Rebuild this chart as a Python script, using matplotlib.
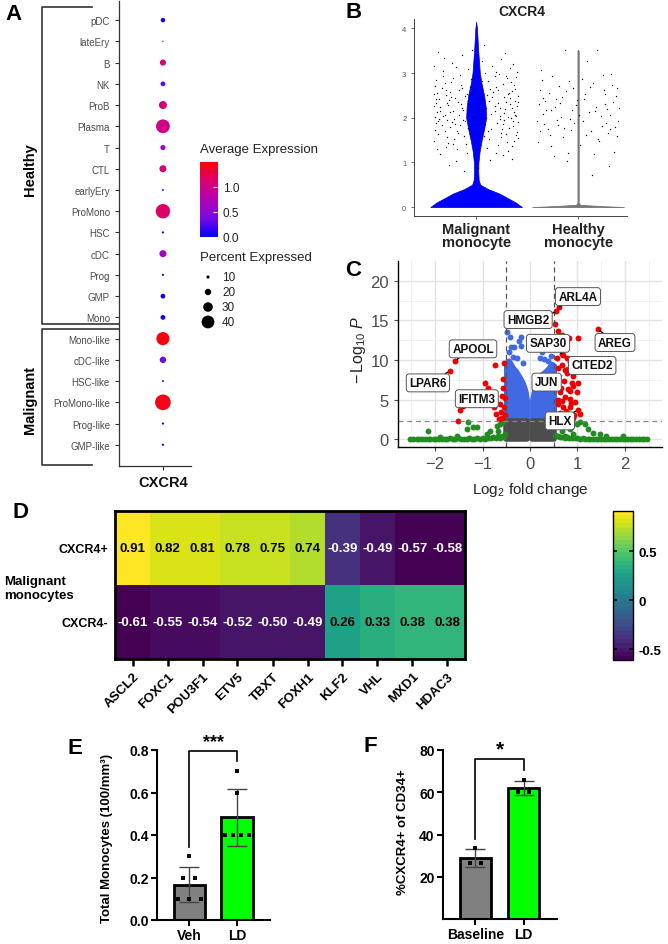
import numpy as np
import matplotlib
matplotlib.use('Agg')
import matplotlib.pyplot as plt
from matplotlib.colors import LinearSegmentedColormap

plt.rcParams['font.family'] = ['Liberation Sans', 'DejaVu Sans']
plt.rcParams['mathtext.fontset'] = 'custom'
plt.rcParams['mathtext.rm'] = 'Liberation Sans'
plt.rcParams['mathtext.it'] = 'Liberation Sans:italic'

W, H = 668, 945

# ---------------- data ----------------
# A: dot plot
cell_types = ['pDC', 'lateEry', 'B', 'NK', 'ProB', 'Plasma', 'T', 'CTL', 'earlyEry', 'ProMono',
              'HSC', 'cDC', 'Prog', 'GMP', 'Mono', 'Mono-like', 'cDC-like', 'HSC-like',
              'ProMono-like', 'Prog-like', 'GMP-like']
avg_expr = [0.05, 0.1, 1.1, 0.3, 1.1, 1.0, 0.6, 1.1, 0.05, 1.15,
            0.05, 0.6, 0.05, 0.05, 0.05, 1.45, 0.35, 0.05, 1.42, 0.05, 0.05]
pct_expr = [14, 4, 19, 15, 25, 43, 16, 22, 6, 45,
            7, 22, 7, 15, 15, 41, 20, 6, 49, 7, 7]
size_legend = [10, 20, 30, 40]

# B: violin profile (expression level, half width) and jittered cells
vln_y = [0, 0.1, 0.2, 0.3, 0.4, 0.5, 0.6, 0.8, 1.0, 1.25, 1.5, 1.75, 2.0, 2.25, 2.5, 2.75, 3.0, 3.5, 4.0, 4.15]
mal_w = [0.45, 0.39, 0.31, 0.23, 0.12, 0.04, 0.025, 0.02, 0.022, 0.034, 0.054, 0.078, 0.098, 0.093,
         0.078, 0.054, 0.036, 0.02, 0.008, 0.0]
hlt_y = [0, 0.02, 0.05, 0.1, 3.5, 3.52]
hlt_w = [0.45, 0.25, 0.02, 0.006, 0.006, 0.0]
mal_jx = [-0.38, -0.21, 0.07, 0.29, 0.40, -0.33, 0.18, -0.09, 0.35, -0.26,
          0.12, -0.41, 0.24, -0.15, 0.38, -0.04, 0.31, -0.35, 0.02, -0.18,
          0.21, -0.29, 0.36, -0.39, 0.09, -0.12, 0.27, -0.24, 0.41, -0.06,
          0.15, -0.36, 0.33, -0.19, 0.04, -0.31, 0.26, -0.02, 0.39, -0.27,
          0.19, -0.40, 0.30, -0.14, 0.11, -0.34, 0.37, -0.08, 0.23, -0.22,
          0.06, -0.37, 0.32, -0.17, 0.41, -0.28, 0.14, -0.01, 0.28, -0.41,
          0.10, -0.25, 0.35, -0.11, 0.20, -0.32, 0.38, -0.05, 0.25, -0.20,
          0.01, -0.39, 0.17, -0.13, 0.34, -0.23, 0.08, -0.30, 0.40, -0.07,
          0.22, -0.35, 0.29, -0.16, 0.13, -0.38, 0.36, -0.02, 0.27, -0.26,
          0.05, -0.33, 0.31, -0.10, 0.18, -0.40, 0.39, -0.21, 0.12, -0.29,
          0.24, -0.37, 0.34, -0.14, 0.03, -0.24, 0.41, -0.08, 0.16, -0.31,
          0.28, -0.18, 0.09, -0.36, 0.21, -0.04, 0.37, -0.27, 0.14, -0.12,
          0.33, -0.39, 0.06, -0.20, 0.26, -0.34, 0.19, -0.09, 0.40, -0.23,
          0.11, -0.30, 0.35, -0.16, 0.23, -0.06, 0.30, -0.41, 0.02, -0.26,
          -0.30, 0.16, -0.11, 0.37, -0.40, 0.27, -0.23, 0.08, -0.35, 0.32,
          -0.06, 0.19, -0.28, 0.41, -0.15, 0.04, -0.38, 0.24, -0.19, 0.35,
          -0.02, 0.13, -0.33, 0.29, -0.09, 0.39, -0.25, 0.10, -0.41, 0.21,
          -0.17, 0.33, -0.04, 0.26, -0.31, 0.06, -0.37, 0.15, -0.13, 0.38,
          -0.22, 0.02, -0.29, 0.31, -0.08, 0.18, -0.39, 0.23, -0.14, 0.36]
mal_jy = [2.12, 1.85, 2.41, 1.63, 2.27, 3.05, 2.94, 1.22, 1.08, 2.58,
          1.71, 1.47, 3.31, 2.73, 2.65, 3.52, 2.02, 1.18, 0.88, 2.36,
          1.39, 1.96, 1.82, 2.84, 2.99, 1.58, 2.47, 3.22, 1.55, 2.18,
          2.08, 2.41, 3.12, 1.29, 1.94, 1.71, 1.16, 2.62, 2.91, 0.95,
          2.68, 2.01, 1.45, 3.41, 1.33, 2.67, 2.13, 1.77, 2.22, 1.52,
          3.27, 1.63, 2.55, 2.05, 1.91, 2.29, 1.05, 1.46, 3.45, 2.52,
          2.21, 2.79, 1.36, 2.49, 1.88, 3.33, 2.38, 2.86, 1.74, 1.03,
          1.61, 1.88, 2.57, 1.95, 2.81, 2.15, 3.62, 1.35, 1.69, 2.31,
          2.97, 2.24, 2.36, 2.96, 1.52, 1.31, 3.21, 1.99, 1.94, 1.79,
          2.70, 2.93, 1.25, 1.41, 2.15, 2.71, 2.04, 2.44, 2.83, 1.56,
          1.57, 3.48, 1.99, 2.22, 1.27, 1.91, 2.49, 3.08, 3.15, 2.07,
          2.19, 1.66, 1.86, 1.97, 2.33, 2.55, 1.49, 2.39, 2.64, 0.81,
          2.44, 2.33, 2.07, 3.14, 2.75, 1.84, 1.21, 2.10, 3.02, 1.42,
          2.51, 2.51, 2.59, 1.83, 1.97, 1.64, 2.88, 3.16, 2.27, 2.12,
          2.62, 2.47, 1.93, 2.74, 1.72, 2.11, 2.88, 1.58, 2.16, 1.77,
          2.68, 3.02, 1.44, 2.35, 2.31, 2.19, 2.55, 1.66, 1.71, 2.22,
          1.84, 2.37, 2.03, 2.94, 2.54, 1.62, 2.47, 1.99, 2.26, 2.61,
          2.61, 2.31, 2.01, 1.87, 2.78, 2.83, 1.92, 1.74, 2.17, 2.07,
          1.98, 2.44, 2.34, 2.52, 1.76, 2.26, 2.43, 2.04, 2.67, 1.92]
hlt_jx = [-0.35, -0.22, 0.05, 0.31, 0.38, -0.28, 0.15, -0.10, 0.26, -0.39,
          0.09, -0.17, 0.33, -0.31, 0.21, -0.05, 0.40, -0.24, 0.13, -0.36,
          0.27, -0.13, 0.02, -0.29, 0.35, -0.20, 0.18, -0.08, 0.24, -0.38,
          0.11, -0.26, 0.37, -0.15, 0.07, -0.33, 0.29, -0.02, 0.16, -0.19,
          0.39, -0.11, 0.22, -0.37, 0.04, -0.27, 0.32, -0.07, 0.20, -0.34,
          0.14, -0.23, 0.36, -0.01, 0.25, -0.30, 0.08, -0.16, 0.30, -0.40,
          0.19, -0.09,
          -0.32, 0.17, -0.06, 0.34, -0.21, 0.06, -0.37, 0.28, -0.12, 0.23,
          -0.27, 0.12, -0.04, 0.38, -0.18, 0.01, -0.34, 0.26, -0.14, 0.31]
hlt_jy = [2.85, 2.42, 1.93, 2.05, 1.58, 1.62, 2.78, 1.22, 2.31, 1.45,
          3.28, 2.02, 2.74, 2.18, 1.47, 2.66, 2.21, 1.14, 1.71, 3.07,
          1.88, 3.51, 1.38, 2.55, 1.24, 1.83, 2.25, 1.97, 2.95, 2.31,
          2.12, 2.94, 2.48, 1.56, 2.52, 1.87, 1.66, 2.29, 1.19, 2.71,
          1.93, 1.04, 2.03, 2.62, 2.86, 1.37, 2.97, 1.72, 1.53, 2.09,
          0.72, 2.24, 1.79, 2.39, 2.62, 1.74, 1.61, 2.46, 0.92, 1.93,
          3.52, 2.83,
          2.38, 2.14, 2.18, 2.36, 1.95, 2.41, 1.71, 2.19, 2.59, 1.81,
          2.17, 2.68, 1.88, 2.67, 2.33, 2.06, 2.44, 2.53, 1.78, 1.74]

# C: volcano
fc_cut, p_cut = 0.5, 2.3
red_x = [-1.51, -1.47, -1.41, -1.68, -1.58, -0.95, -0.88, -0.74, -0.55, -0.57, -0.56, -0.60, -0.79,
         -0.64, -0.71, -0.61, -0.55, -0.75, -0.58, -0.52, -0.66, -0.53,
         0.55, 0.62, 0.53, 0.60, 0.83, 1.02, 0.56, 0.67, 0.70, 0.77, 0.56, 0.84, 0.67, 0.77, 0.91,
         0.60, 0.91, 0.84, 0.98, 0.63, 0.73, 0.84, 0.95, 0.60, 0.70, 0.84, 1.02, 1.05, 0.56, 0.77,
         0.91, 1.43, 0.67, 0.88, 1.02, 0.53, 0.63, 0.74, 0.58, 0.65, 0.72, 0.80, 0.86, 0.62, 0.75,
         0.68, 0.93, 0.58, 0.80, 0.57]
red_y = [2.3, 3.7, 4.2, 8.6, 9.9, 7.1, 6.5, 9.3, 9.6, 7.6, 6.5, 5.5, 4.6,
         4.4, 3.2, 3.4, 4.0, 4.0, 2.7, 3.0, 2.6, 5.2,
         16.2, 16.7, 14.5, 13.6, 12.8, 12.8, 11.8, 10.8, 10.6, 10.2, 10.3, 9.7, 9.3, 8.4, 8.0,
         7.6, 6.7, 6.1, 5.9, 5.9, 5.3, 5.1, 4.7, 4.4, 4.0, 4.0, 3.7, 3.2, 2.9, 2.9,
         2.7, 13.9, 13.2, 7.1, 7.1, 6.7, 3.3, 8.7, 9.0, 6.5, 7.3, 6.3, 4.6, 3.0, 3.6,
         4.8, 3.1, 5.0, 8.8, 12.6]
green_x = [-2.52, -2.46, -2.39, -2.33, -2.28, -2.21, -2.15, -2.10, -2.03, -1.97, -1.92, -1.86, -1.80,
           -1.75, -1.69, -1.62, -1.57, -1.51, -1.46, -1.40, -1.33, -1.28, -1.22, -1.17, -1.11, -1.05,
           -0.99, -0.94, -0.88, -0.83, -0.77, -0.72, -0.67, -0.63, -0.59, -0.55, -0.52,
           0.52, 0.55, 0.59, 0.63, 0.68, 0.73, 0.78, 0.83, 0.89, 0.94, 1.00, 1.05, 1.11, 1.16, 1.22,
           1.27, 1.33, 1.38, 1.44, 1.50, 1.55, 1.61, 1.66, 1.72, 1.78, 1.83, 1.89, 1.95, 2.00, 2.06,
           2.12, 2.17, 2.23, 2.29, 2.35, 2.41, 2.47,
           -2.14, -1.30, -1.33, -1.19, -1.12, -0.84, -0.70, -0.63, -0.56, -0.67, -0.91, -1.54, -1.89,
           0.56, 0.67, 0.84, 0.98, 1.05, 1.16, 1.23, 1.33, 1.61, 1.96, 1.47, 0.91, 0.74]
green_y = [0.02, 0.0, 0.05, 0.01, 0.03, 0.0, 0.04, 0.02, 0.06, 0.01, 0.03, 0.0, 0.05,
           0.02, 0.08, 0.01, 0.04, 0.1, 0.02, 0.06, 0.03, 0.12, 0.05, 0.0, 0.09, 0.04,
           0.15, 0.07, 0.2, 0.1, 0.25, 0.12, 0.35, 0.2, 0.45, 0.3, 0.6,
           0.5, 0.35, 0.4, 0.25, 0.3, 0.2, 0.22, 0.15, 0.12, 0.1, 0.14, 0.06, 0.09, 0.04, 0.07,
           0.02, 0.05, 0.0, 0.03, 0.06, 0.01, 0.04, 0.0, 0.02, 0.05, 0.01, 0.03, 0.0, 0.04, 0.02,
           0.02, 0.0, 0.03, 0.01, 0.0, 0.02, 0.01,
           1.05, 2.2, 1.3, 1.5, 1.5, 1.05, 1.7, 1.9, 2.2, 1.05, 0.6, 0.4, 0.3,
           1.7, 1.05, 1.3, 1.9, 2.1, 1.9, 1.3, 0.8, 0.4, 0.4, 0.6, 0.6, 0.4]
# dense p-value-only clouds: upper envelope of each side
blue_left_x = [-0.5, -0.45, -0.4, -0.35, -0.3, -0.25, -0.2, -0.15, -0.1, -0.06]
blue_left_top = [9.6, 9.9, 9.4, 8.9, 8.6, 8.1, 7.6, 7.0, 6.1, 4.6]
blue_right_x = [0.05, 0.1, 0.15, 0.2, 0.25, 0.3, 0.35, 0.4, 0.45, 0.5]
blue_right_top = [5.0, 6.5, 7.3, 7.8, 8.2, 8.4, 8.7, 9.0, 9.5, 9.3]
blue_x = [-0.49, -0.49, -0.42, -0.39, -0.2, -0.24, -0.33, -0.2, -0.36, -0.27, -0.15, -0.44,
          0.34, 0.39, 0.25, 0.42, 0.21, 0.29, 0.45, 0.38, 0.47]
blue_y = [15.1, 13.5, 12.9, 11.6, 12.9, 12.4, 11.6, 11.8, 10.4, 10.2, 9.6, 11.0,
          12.0, 11.4, 11.0, 12.7, 10.3, 10.1, 10.5, 9.9, 11.9]
genes_lab = ['ARL4A', 'HMGB2', 'AREG', 'SAP30', 'CITED2', 'JUN', 'HLX', 'APOOL', 'LPAR6', 'IFITM3']
genes_fc = [0.62, 0.52, 1.43, 0.67, 0.74, 0.67, 1.01, -1.58, -1.68, -1.45]
genes_p = [16.7, 16.0, 13.9, 10.8, 8.7, 8.0, 3.7, 9.9, 8.6, 3.7]

# D: heatmap
tf_genes = ['ASCL2', 'FOXC1', 'POU3F1', 'ETV5', 'TBXT', 'FOXH1', 'KLF2', 'VHL', 'MXD1', 'HDAC3']
cxcr4_pos = [0.91, 0.82, 0.81, 0.78, 0.75, 0.74, -0.39, -0.49, -0.57, -0.58]
cxcr4_neg = [-0.61, -0.55, -0.54, -0.52, -0.50, -0.49, 0.26, 0.33, 0.38, 0.38]

# E, F: bar charts
e_groups = ['Veh', 'LD']
veh_vals = [0.3, 0.2, 0.2, 0.1, 0.1, 0.1]
ld_vals = [0.7, 0.6, 0.4, 0.4, 0.4, 0.4]
f_groups = ['Baseline', 'LD']
base_vals = [33.6, 26.5, 26.5]
ldf_vals = [65.9, 60.1, 60.1]

# ---------------- figure ----------------
fig = plt.figure(figsize=(W / 100, H / 100), dpi=100)
ov = fig.add_axes([0, 0, 1, 1])
ov.set_xlim(0, W)
ov.set_ylim(H, 0)
ov.axis('off')


def px_axes(x0, y0, x1, y1):
    return fig.add_axes([x0 / W, 1 - y1 / H, (x1 - x0) / W, (y1 - y0) / H])


for letter, lx, ly in [('A', 13, 15), ('B', 354, 12), ('C', 353, 271), ('D', 21, 513), ('E', 75, 748), ('F', 370, 747)]:
    ov.text(lx, ly, letter, fontsize=16, fontweight='bold', ha='center', va='center')

# ---- A
cmapA = LinearSegmentedColormap.from_list('bluered', ['#0000FF', '#7A0AE6', '#B400B4', '#DB0070', '#FF0000'])
dot_k = 0.23
axA = px_axes(119, 2, 191, 467)
rows = np.arange(len(cell_types))
axA.scatter(np.zeros(len(rows)), rows, s=(np.array(pct_expr) * dot_k) ** 2, c=avg_expr,
            cmap=cmapA, vmin=0, vmax=1.5, linewidths=0)
axA.set_xlim(-0.61, 0.39)
axA.set_ylim(21.0, -0.9)
axA.set_yticks(rows)
axA.set_yticklabels(cell_types, fontsize=7, color='#4D4D4D')
axA.set_xticks([0])
axA.set_xticklabels(['CXCR4'], fontsize=10.5, fontweight='bold', color='#111111')
axA.tick_params(length=3, color='#333333', width=0.8)
for s in ['top', 'right']:
    axA.spines[s].set_visible(False)
for s in ['left', 'bottom']:
    axA.spines[s].set_color('#333333')
    axA.spines[s].set_linewidth(0.9)

bk = dict(color='#333333', lw=1.2)
ov.plot([92, 42, 42, 119], [8, 8, 325, 325], **bk)
ov.plot([119, 42, 42, 92], [330, 330, 466, 466], **bk)
ov.text(30, 170, 'Healthy', rotation=90, fontsize=10.5, fontweight='bold', ha='center', va='center')
ov.text(30, 400, 'Malignant', rotation=90, fontsize=10.5, fontweight='bold', ha='center', va='center')

ov.text(200, 150, 'Average Expression', fontsize=9.5, color='#222222', va='center')
caxA = px_axes(200, 163, 217, 238)
caxA.imshow(np.linspace(0, 1.5, 256).reshape(-1, 1), cmap=cmapA, aspect='auto', origin='lower',
            extent=[0, 1, 0, 1.5])
caxA.set_xticks([])
caxA.set_yticks([0, 0.5, 1.0])
caxA.set_yticklabels(['0.0', '0.5', '1.0'])
caxA.tick_params(axis='y', direction='in', length=3, color='white', labelsize=8.5, pad=4,
                 left=False, labelleft=False, right=True, labelright=True, labelcolor='#222222')
for s in caxA.spines.values():
    s.set_visible(False)
ov.text(200, 258, 'Percent Expressed', fontsize=9.5, color='#222222', va='center')
leg_y = [278, 293, 308, 323]
ov.scatter([208] * len(size_legend), leg_y, s=(np.array(size_legend) * dot_k) ** 2, c='black', linewidths=0)
for v, yy in zip(size_legend, leg_y):
    ov.text(222, yy, str(v), fontsize=8.5, color='#222222', va='center')

# ---- B
axB = px_axes(414, 20, 627, 217)
axB.fill_betweenx(vln_y, -np.array(mal_w), np.array(mal_w), facecolor='#0000FF', edgecolor='#0000CC', lw=0.5)
axB.fill_betweenx(hlt_y, 1 - np.array(hlt_w), 1 + np.array(hlt_w), facecolor='#777777', edgecolor='#777777', lw=0.6)
axB.scatter(mal_jx, mal_jy, s=1.0, c='#111111', linewidths=0)
axB.scatter(1 + np.array(hlt_jx), hlt_jy, s=1.0, c='#111111', linewidths=0)
axB.set_xlim(-0.61, 1.48)
axB.set_ylim(-0.2, 4.21)
axB.set_yticks([0, 1, 2, 3, 4])
axB.set_xticks([0, 1])
axB.set_xticklabels(['Malignant\nmonocyte', 'Healthy\nmonocyte'], fontsize=10.5, fontweight='bold',
                    color='#222222', linespacing=0.95)
axB.tick_params(axis='y', labelsize=5.5, labelcolor='#555555', length=2, color='#555555', width=0.6)
axB.tick_params(axis='x', length=2, color='#555555', width=0.6, pad=2)
for s in ['top', 'right']:
    axB.spines[s].set_visible(False)
for s in ['left', 'bottom']:
    axB.spines[s].set_color('#444444')
    axB.spines[s].set_linewidth(0.7)
ov.text(522, 12, 'CXCR4', fontsize=10, fontweight='bold', ha='center', va='center', color='#222222')

# ---- C
axC = px_axes(398, 262, 662, 448)
axC.set_xlim(-2.78, 2.78)
axC.set_ylim(-1.0, 22.5)
axC.set_xticks([-2, -1, 0, 1, 2])
axC.set_yticks([0, 5, 10, 15, 20])
axC.set_xticks([-2.5, -1.5, -0.5, 0.5, 1.5, 2.5], minor=True)
axC.set_yticks([2.5, 7.5, 12.5, 17.5], minor=True)
axC.grid(True, which='major', color='#E3E3E3', lw=1.0)
axC.grid(True, which='minor', color='#EEEEEE', lw=0.6)
axC.set_axisbelow(True)
axC.tick_params(which='minor', length=0)
axC.tick_params(which='major', labelsize=12, labelcolor='#4D4D4D', color='#4D4D4D', length=3)
for s in ['top', 'right']:
    axC.spines[s].set_visible(False)
for s in ['left', 'bottom']:
    axC.spines[s].set_color('black')
    axC.spines[s].set_linewidth(1.0)
grey_c, blue_c, green_c, red_c = '#4D4D4D', '#4169E1', '#228B22', '#EE0000'
axC.fill_between(blue_left_x, p_cut, blue_left_top, facecolor=blue_c, edgecolor=blue_c, lw=4, joinstyle='round')
axC.fill_between(blue_right_x, p_cut, blue_right_top, facecolor=blue_c, edgecolor=blue_c, lw=4, joinstyle='round')
axC.scatter(blue_x, blue_y, s=18, c=blue_c, linewidths=0)
axC.fill_between([-fc_cut, -0.06], 0, p_cut, facecolor=grey_c, edgecolor=grey_c, lw=4, joinstyle='round')
axC.fill_between([0.05, fc_cut], 0, p_cut, facecolor=grey_c, edgecolor=grey_c, lw=4, joinstyle='round')
axC.scatter(green_x, green_y, s=18, c=green_c, linewidths=0)
axC.scatter(red_x, red_y, s=18, c=red_c, linewidths=0)
for xv in [-fc_cut, fc_cut]:
    axC.axvline(xv, color='#555555', ls=(0, (4, 3)), lw=0.9)
axC.axhline(p_cut, color='#888888', ls=(0, (4, 3)), lw=0.9)
lab_pos = [(1.01, 18.0), (-0.04, 15.1), (1.79, 12.2), (0.38, 12.1), (1.31, 9.3),
           (0.35, 7.2), (0.63, 2.3), (-1.2, 11.4), (-2.15, 7.1), (-1.12, 5.1)]
for g, gx, gy, (tx, ty) in zip(genes_lab, genes_fc, genes_p, lab_pos):
    axC.annotate(g, xy=(gx, gy), xytext=(tx, ty), ha='center', va='center', fontsize=8.5,
                 fontweight='bold', color='#111111',
                 bbox=dict(boxstyle='round,pad=0.25', fc='white', ec='#555555', lw=0.7),
                 arrowprops=dict(arrowstyle='-', color='black', lw=1.0, shrinkA=0, shrinkB=2))
ov.text(358, 350, r'$-\,\mathrm{Log}_{10}\ \mathit{P}$', rotation=90, fontsize=11.5, ha='center', va='center',
        color='#222222')
ov.text(530, 490, r'$\mathrm{Log}_{2}\ \mathrm{fold\ change}$', fontsize=11, ha='center', va='center',
        color='#222222')

# ---- D
vals = np.array([cxcr4_pos, cxcr4_neg])
axD = px_axes(115, 512, 465, 660)
vir = plt.get_cmap('viridis', 36)
im = axD.imshow(vals, cmap=vir, vmin=vals.min(), vmax=vals.max(), aspect='auto')
for i in range(vals.shape[0]):
    for j in range(vals.shape[1]):
        v = vals[i, j]
        axD.text(j, i, f'{v:.2f}', ha='center', va='center', fontsize=9.5, fontweight='bold',
                 color='black' if v > 0 else 'white')
axD.set_xticks(range(len(tf_genes)))
axD.set_xticklabels(tf_genes, rotation=45, ha='right', va='top', rotation_mode='anchor',
                    fontsize=9.5, fontweight='bold')
axD.set_yticks([0, 1])
axD.set_yticklabels(['CXCR4+', 'CXCR4-'], fontsize=9, fontweight='bold')
axD.tick_params(axis='x', length=5, width=1.8, pad=3)
axD.tick_params(axis='y', length=0, pad=5)
for s in axD.spines.values():
    s.set_linewidth(2)
ov.text(4, 589, 'Malignant\nmonocytes', fontsize=9.5, fontweight='bold', ha='left', va='center', linespacing=1.3)
caxD = px_axes(613, 512, 633, 661)
cb = fig.colorbar(im, cax=caxD, ticks=[-0.5, 0, 0.5])
cb.ax.set_yticklabels(['-0.5', '0', '0.5'], fontsize=9.5, fontweight='bold')
cb.ax.tick_params(direction='in', length=3, width=1.2, left=True, right=True, pad=4)
cb.outline.set_linewidth(1.0)


# ---- E, F
def bar_panel(ax, groups, samples, colors, ymax, yticks, fmt):
    x = np.arange(len(groups))
    means = [np.mean(s) for s in samples]
    sds = [np.std(s, ddof=1) for s in samples]
    ax.bar(x, means, width=0.65, color=colors, edgecolor='black', lw=2, zorder=1)
    ax.errorbar(x, means, yerr=sds, fmt='none', ecolor='#444444', elinewidth=1.0, capsize=7, capthick=1.0, zorder=2)
    for xi, s in zip(x, samples):
        s = np.array(s)
        for v in np.unique(s):
            n = int(np.sum(s == v))
            span = min(0.24 * (n - 1), 0.52)
            offs = np.linspace(-span / 2, span / 2, n) if n > 1 else np.array([0.0])
            ax.scatter(xi + offs, [v] * n, marker='s', s=10, c='black', linewidths=0, zorder=3)
    ax.set_xlim(-0.67, 1.69)
    ax.set_ylim(0, ymax)
    ax.set_yticks(yticks)
    ax.set_yticklabels([fmt.format(t) for t in yticks], fontsize=10, fontweight='bold')
    ax.set_xticks(x)
    ax.set_xticklabels(groups, fontsize=10, fontweight='bold')
    ax.tick_params(length=4, width=1.5, pad=2)
    for s in ['top', 'right']:
        ax.spines[s].set_visible(False)
    for s in ['left', 'bottom']:
        ax.spines[s].set_linewidth(1.5)
    return means


axE = px_axes(157, 751, 270, 921)
bar_panel(axE, e_groups, [veh_vals, ld_vals], ['#808080', '#00FF00'], 0.8, [0.0, 0.2, 0.4, 0.6, 0.8], '{:.1f}')
axE.plot([0, 0, 1, 1], [max(veh_vals) + 0.043, 0.797, 0.797, 0.75], color='black', lw=1.2, clip_on=False)
axE.text(0.5, 0.80, '***', ha='center', va='bottom', fontsize=13, fontweight='bold', clip_on=False)
ov.text(107, 838, 'Total Monocytes (100/mm³)', rotation=90, fontsize=9.5, fontweight='bold', ha='center', va='center')

axF = px_axes(443, 751, 557, 920)
bar_panel(axF, f_groups, [base_vals, ldf_vals], ['#808080', '#00FF00'], 80, [20, 40, 60, 80], '{:d}')
axF.plot([0, 0, 1, 1], [37.8, 75.6, 75.6, 70.5], color='black', lw=1.2, clip_on=False)
axF.text(0.5, 76.0, '*', ha='center', va='bottom', fontsize=15, fontweight='bold', clip_on=False)
ov.text(403, 832, '%CXCR4+ of CD34+', rotation=90, fontsize=9.5, fontweight='bold', ha='center', va='center')

fig.savefig('out.png', dpi=100)
